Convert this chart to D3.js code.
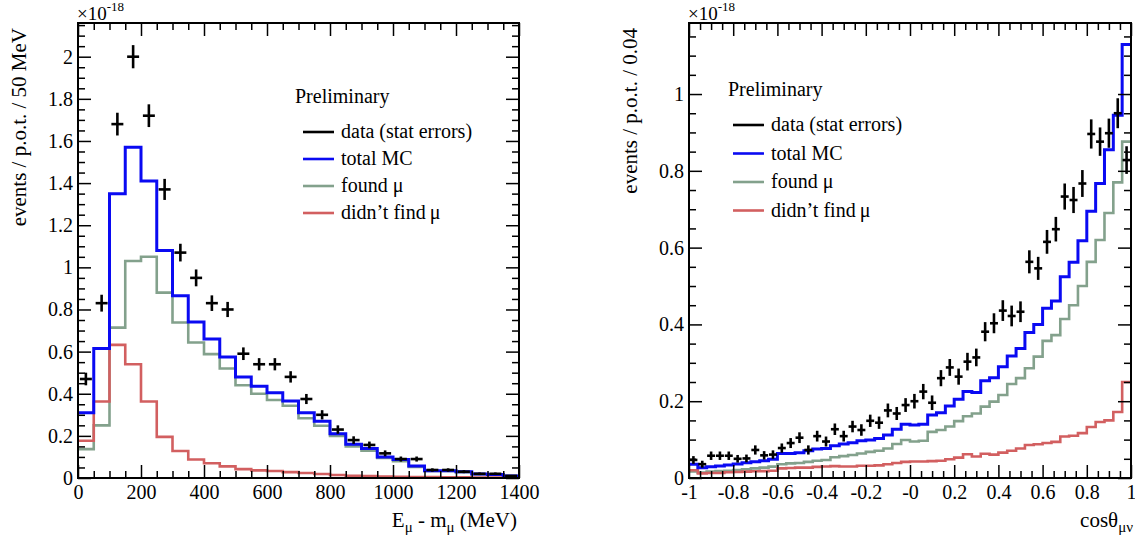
<!DOCTYPE html>
<html>
<head>
<meta charset="utf-8">
<script src="https://cdn.jsdelivr.net/npm/d3@7"></script>
<style>
  body { margin: 0; background: #fff; }
  svg { display: block; font-family: "Liberation Serif", "Times New Roman", serif; }
  .tick text { font-size: 20px; fill: #000; }
</style>
</head>
<body>
<svg id="chart" width="1135" height="539"></svg>
<script>
// ---- left panel: E_mu - m_mu, 28 bins of 50 MeV (units of 1e-18 events / p.o.t.)
var energyData  = [0.47, 0.83, 1.68, 2.00, 1.72, 1.37, 1.07, 0.95, 0.83, 0.80, 0.59, 0.54, 0.54, 0.48,
                   0.375, 0.30, 0.23, 0.18, 0.157, 0.117, 0.09, 0.09, 0.038, 0.038, 0.03, 0.02, 0.02, 0.01];
var energyErr   = [0.03, 0.04, 0.054, 0.055, 0.054, 0.05, 0.042, 0.04, 0.037, 0.036, 0.03, 0.029, 0.029, 0.027,
                   0.024, 0.022, 0.02, 0.018, 0.016, 0.014, 0.012, 0.012, 0.008, 0.008, 0.007, 0.006, 0.006, 0.004];
var energyTotal = [0.31, 0.615, 1.35, 1.57, 1.41, 1.08, 0.865, 0.74, 0.66, 0.575, 0.48, 0.435, 0.405, 0.366,
                   0.31, 0.27, 0.21, 0.16, 0.14, 0.10, 0.088, 0.057, 0.035, 0.035, 0.03, 0.019, 0.017, 0.01];
var energyFound = [0.137, 0.25, 0.714, 1.03, 1.05, 0.88, 0.738, 0.643, 0.588, 0.52, 0.44, 0.40, 0.37, 0.343,
                   0.284, 0.248, 0.20, 0.15, 0.13, 0.095, 0.08, 0.052, 0.033, 0.033, 0.028, 0.018, 0.016, 0.009];
var energyMissed = [0.177, 0.363, 0.632, 0.54, 0.363, 0.195, 0.128, 0.088, 0.07, 0.055, 0.042, 0.036, 0.033, 0.028,
                   0.024, 0.019, 0.014, 0.011, 0.009, 0.007, 0.006, 0.005, 0.004, 0.003, 0.003, 0.002, 0.002, 0.001];
var energyTicks  = [0, 200, 400, 600, 800, 1000, 1200, 1400];
var energyLabels = ["0", "200", "400", "600", "800", "1000", "1200", "1400"];
var energyYTicks  = [0, 0.2, 0.4, 0.6, 0.8, 1, 1.2, 1.4, 1.6, 1.8, 2];
var energyYLabels = ["0", "0.2", "0.4", "0.6", "0.8", "1", "1.2", "1.4", "1.6", "1.8", "2"];

// ---- right panel: cos theta_mu-nu, 50 bins of 0.04
var cosData  = [0.047, 0.036, 0.058, 0.058, 0.058, 0.05, 0.051, 0.073, 0.059, 0.061,
                0.078, 0.091, 0.105, 0.073, 0.109, 0.095, 0.127, 0.109, 0.134, 0.125,
                0.149, 0.144, 0.176, 0.168, 0.19, 0.20, 0.225, 0.196, 0.26, 0.288,
                0.264, 0.303, 0.314, 0.381, 0.403, 0.436, 0.422, 0.433, 0.563, 0.546,
                0.615, 0.648, 0.733, 0.724, 0.767, 0.896, 0.876, 0.898, 0.95, 0.828];
var cosErr   = [0.010, 0.009, 0.011, 0.011, 0.011, 0.010, 0.010, 0.012, 0.011, 0.011,
                0.012, 0.013, 0.014, 0.012, 0.014, 0.013, 0.015, 0.014, 0.015, 0.015,
                0.016, 0.016, 0.018, 0.017, 0.018, 0.019, 0.020, 0.019, 0.021, 0.022,
                0.021, 0.023, 0.023, 0.025, 0.026, 0.027, 0.027, 0.027, 0.030, 0.030,
                0.031, 0.032, 0.034, 0.034, 0.035, 0.038, 0.037, 0.038, 0.039, 0.036];
var cosTotal = [0.0356, 0.027, 0.0295, 0.031, 0.034, 0.0365, 0.04, 0.0425, 0.045, 0.0486,
                0.064, 0.064, 0.066, 0.071, 0.0755, 0.077, 0.084, 0.0885, 0.092, 0.097,
                0.099, 0.103, 0.112, 0.127, 0.14, 0.138, 0.14, 0.164, 0.17, 0.1875,
                0.205, 0.225, 0.223, 0.253, 0.261, 0.29, 0.318, 0.337, 0.379, 0.40,
                0.442, 0.461, 0.524, 0.562, 0.618, 0.695, 0.767, 0.855, 0.945, 1.129];
var cosFound = [0.017, 0.014, 0.0165, 0.018, 0.019, 0.021, 0.0225, 0.025, 0.027, 0.0295,
                0.036, 0.038, 0.039, 0.042, 0.045, 0.047, 0.054, 0.057, 0.06, 0.064,
                0.068, 0.071, 0.077, 0.0885, 0.099, 0.095, 0.097, 0.12, 0.125, 0.134,
                0.148, 0.161, 0.168, 0.186, 0.199, 0.216, 0.245, 0.26, 0.286, 0.316,
                0.357, 0.372, 0.414, 0.45, 0.50, 0.563, 0.62, 0.69, 0.77, 0.876];
var cosMissed = [0.02, 0.012, 0.013, 0.013, 0.015, 0.0156, 0.0165, 0.0175, 0.018, 0.019,
                0.025, 0.026, 0.027, 0.027, 0.029, 0.030, 0.031, 0.030, 0.030, 0.032,
                0.032, 0.033, 0.036, 0.039, 0.042, 0.043, 0.043, 0.044, 0.045, 0.049,
                0.053, 0.062, 0.056, 0.063, 0.061, 0.066, 0.071, 0.077, 0.086, 0.088,
                0.091, 0.094, 0.108, 0.11, 0.117, 0.133, 0.146, 0.15, 0.172, 0.25];
var cosTicks  = [-1, -0.8, -0.6, -0.4, -0.2, 0, 0.2, 0.4, 0.6, 0.8, 1];
var cosLabels = ["-1", "-0.8", "-0.6", "-0.4", "-0.2", "-0", "0.2", "0.4", "0.6", "0.8", "1"];
var cosYTicks  = [0, 0.2, 0.4, 0.6, 0.8, 1];
var cosYLabels = ["0", "0.2", "0.4", "0.6", "0.8", "1"];

var legendLabels = ["data (stat errors)", "total MC", "found \u03bc", "didn\u2019t find\u2009\u03bc"];

var BLUE = "#0a0af2", GREEN = "#83a18c", RED = "#d25f60", BLACK = "#000";

var svg = d3.select('#chart');

function binEdges(lo, width, n) {
    return d3.range(n + 1).map(function(i) { return lo + i * width; });
}

function minorTicks(lo, hi, step, majors) {
    var n = Math.round((hi - lo) / step);
    return d3.range(n + 1).map(function(i) { return lo + i * step; })
        .filter(function(v) { return !majors.some(function(m) { return Math.abs(m - v) < 1e-9; }); });
}

function addAxis(g, axis, transform) {
    var a = g.append('g').attr('transform', transform).call(axis);
    a.select('.domain').remove();
    a.attr('font-size', null).attr('font-family', null);
    a.selectAll('line').attr('stroke', '#000').attr('stroke-width', 1.5);
    return a;
}

function drawPanel(p) {
    var x = d3.scaleLinear().domain(p.xDomain).range([p.left, p.right]);
    var y = d3.scaleLinear().domain(p.yDomain).range([p.bottom, p.top]);
    var g = svg.append('g');
    var edges = binEdges(p.xDomain[0], p.binWidth, p.data.length);

    // MC histograms as steps
    var step = d3.line()
        .curve(d3.curveStepAfter)
        .x(function(d) { return x(d[0]); })
        .y(function(d) { return y(d[1]); });

    [[p.found, GREEN, 2.6], [p.missed, RED, 2.6], [p.total, BLUE, 3]].forEach(function(h) {
        var pts = h[0].map(function(v, i) { return [edges[i], v]; });
        pts.push([edges[edges.length - 1], h[0][h[0].length - 1]]);
        g.append('path')
            .attr('d', step(pts))
            .attr('fill', 'none')
            .attr('stroke', h[1])
            .attr('stroke-width', h[2]);
    });

    // data points with error bars
    var pts = g.append('g')
        .selectAll('g')
        .data(p.data.map(function(v, i) {
            return { c: edges[i] + p.binWidth / 2, v: v, e: p.err[i] };
        }))
        .enter()
        .append('g')
        .attr('stroke', BLACK)
        .attr('stroke-width', 2.6);

    pts.append('line')
        .attr('x1', function(d) { return x(d.c); })
        .attr('x2', function(d) { return x(d.c); })
        .attr('y1', function(d) { return y(d.v - d.e); })
        .attr('y2', function(d) { return y(d.v + d.e); });

    pts.append('line')
        .attr('x1', function(d) { return x(d.c - p.errX * p.binWidth); })
        .attr('x2', function(d) { return x(d.c + p.errX * p.binWidth); })
        .attr('y1', function(d) { return y(d.v); })
        .attr('y2', function(d) { return y(d.v); });

    // axes, ROOT style: ticks inside on all four sides
    var xMinor = minorTicks(p.xDomain[0], p.xDomain[1], p.xMinorStep, p.xTicks);
    var yTop = p.yDomain[0] + p.yMinorStep * Math.floor((p.yDomain[1] - p.yDomain[0]) / p.yMinorStep + 1e-9);
    var yMinor = minorTicks(p.yDomain[0], yTop, p.yMinorStep, p.yTicks);

    addAxis(g, d3.axisBottom(x).tickValues(p.xTicks).tickSize(-13).tickPadding(7)
        .tickFormat(function(d, i) { return p.xLabels[i]; }), 'translate(0,' + p.bottom + ')');
    addAxis(g, d3.axisBottom(x).tickValues(xMinor).tickSize(-7).tickFormat(''), 'translate(0,' + p.bottom + ')');
    addAxis(g, d3.axisTop(x).tickValues(p.xTicks).tickSize(-13).tickFormat(''), 'translate(0,' + p.top + ')');
    addAxis(g, d3.axisTop(x).tickValues(xMinor).tickSize(-7).tickFormat(''), 'translate(0,' + p.top + ')');

    addAxis(g, d3.axisLeft(y).tickValues(p.yTicks).tickSize(-13).tickPadding(5)
        .tickFormat(function(d, i) { return p.yLabels[i]; }), 'translate(' + p.left + ',0)');
    addAxis(g, d3.axisLeft(y).tickValues(yMinor).tickSize(-7).tickFormat(''), 'translate(' + p.left + ',0)');
    addAxis(g, d3.axisRight(y).tickValues(p.yTicks).tickSize(-13).tickFormat(''), 'translate(' + p.right + ',0)');
    addAxis(g, d3.axisRight(y).tickValues(yMinor).tickSize(-7).tickFormat(''), 'translate(' + p.right + ',0)');

    // frame
    g.append('rect')
        .attr('x', p.left).attr('y', p.top)
        .attr('width', p.right - p.left).attr('height', p.bottom - p.top)
        .attr('fill', 'none').attr('stroke', '#000').attr('stroke-width', 2);

    // exponent label
    var ex = g.append('text').attr('x', p.left - 1).attr('y', 20).attr('font-size', 19).text('\u00d710');
    ex.append('tspan').attr('font-size', 13).attr('dy', -9).text('-18');

    // y title
    g.append('text')
        .attr('transform', 'translate(' + p.yTitleX + ',' + (p.top + 5) + ') rotate(-90)')
        .attr('text-anchor', 'end')
        .attr('font-size', 21)
        .text(p.yTitle);

    // x title: [text, isSubscript]
    var xt = g.append('text')
        .attr('x', p.xTitleX).attr('y', 527)
        .attr('text-anchor', 'end')
        .attr('font-size', 21);
    var lowered = false;
    p.xTitle.forEach(function(part) {
        var t = xt.append('tspan').text(part[0]);
        if (part[1]) t.attr('font-size', 15);
        if (part[1] !== lowered) t.attr('dy', part[1] ? 5 : -5);
        lowered = part[1];
    });

    // legend
    var lg = g.append('g').attr('font-size', 20);
    lg.append('text').attr('x', p.prelimX).attr('y', p.legendY - 29).text('Preliminary');
    var colors = [BLACK, BLUE, GREEN, RED];
    legendLabels.forEach(function(lbl, i) {
        var ly = p.legendY + i * p.legendStep;
        lg.append('line')
            .attr('x1', p.legendX).attr('x2', p.legendX + 31)
            .attr('y1', ly).attr('y2', ly)
            .attr('stroke', colors[i]).attr('stroke-width', 2.6);
        lg.append('text').attr('x', p.legendX + 38).attr('y', ly + 6).text(lbl);
    });
}

drawPanel({
    left: 78, right: 519, top: 23, bottom: 478,
    xDomain: [0, 1400], yDomain: [0, 2.16], binWidth: 50, errX: 0.38,
    data: energyData, err: energyErr, total: energyTotal, found: energyFound, missed: energyMissed,
    xTicks: energyTicks, xLabels: energyLabels, xMinorStep: 50,
    yTicks: energyYTicks, yLabels: energyYLabels, yMinorStep: 0.05,
    yTitle: 'events / p.o.t. / 50 MeV', yTitleX: 26,
    xTitle: [['E', false], ['\u03bc', true], [' - m', false], ['\u03bc', true], [' (MeV)', false]], xTitleX: 517,
    prelimX: 295, legendX: 303, legendY: 132, legendStep: 27
});

drawPanel({
    left: 689, right: 1131, top: 23, bottom: 478,
    xDomain: [-1, 1], yDomain: [0, 1.185], binWidth: 0.04, errX: 0.45,
    data: cosData, err: cosErr, total: cosTotal, found: cosFound, missed: cosMissed,
    xTicks: cosTicks, xLabels: cosLabels, xMinorStep: 0.05,
    yTicks: cosYTicks, yLabels: cosYLabels, yMinorStep: 0.05,
    yTitle: 'events / p.o.t. / 0.04', yTitleX: 637,
    xTitle: [['cos\u03b8', false], ['\u03bc\u03bd', true]], xTitleX: 1133,
    prelimX: 728, legendX: 733, legendY: 125, legendStep: 28.5
});
</script>
</body>
</html>
